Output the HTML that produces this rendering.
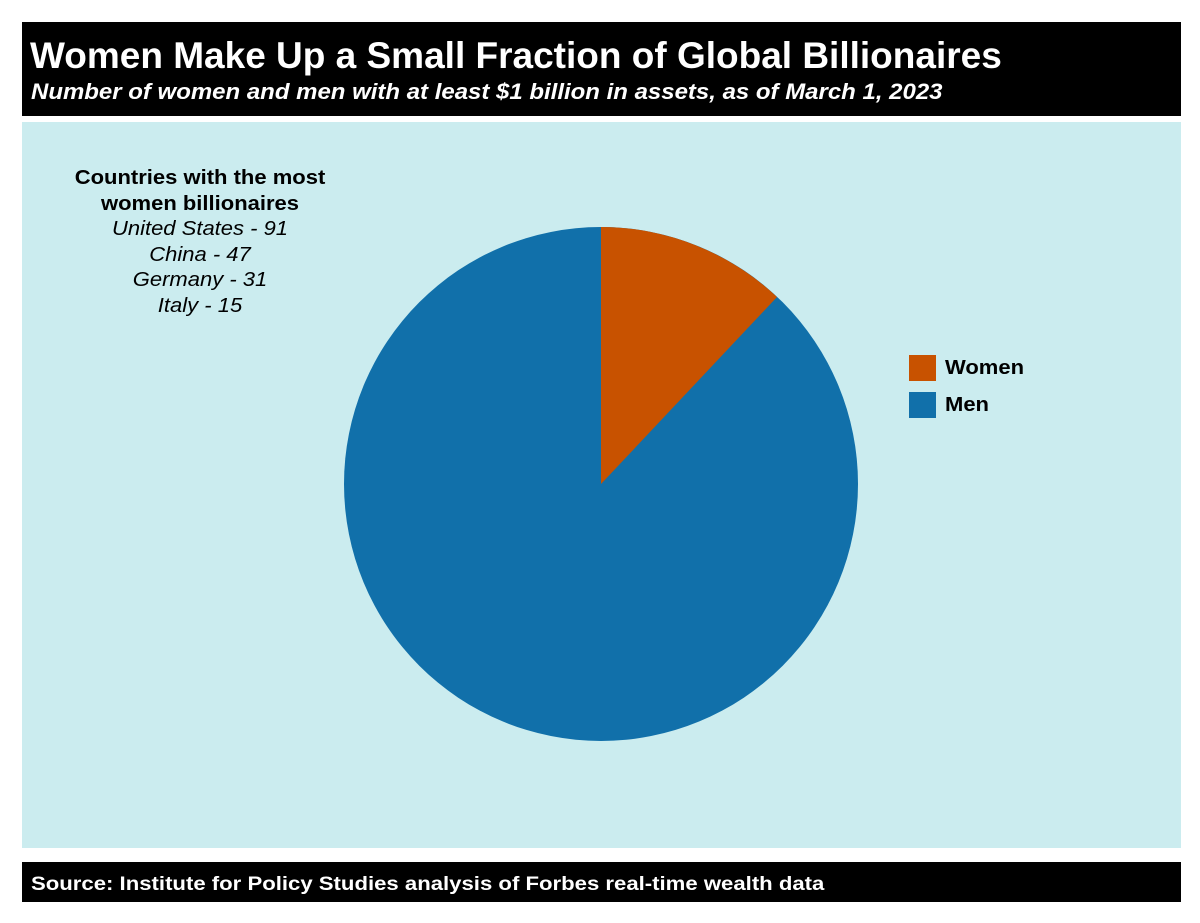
<!DOCTYPE html>
<html><head><meta charset="utf-8"><style>
body{margin:0;width:1200px;height:923px;background:#fff;position:relative;overflow:hidden;font-family:"Liberation Sans",sans-serif}
.hd{position:absolute;left:22px;top:22px;width:1159px;height:94px;background:#000;color:#fff}
.t{position:absolute;left:8px;top:13px;font-size:37px;font-weight:bold;white-space:nowrap}
.s{position:absolute;left:9px;top:57px;font-size:22px;font-weight:bold;font-style:italic;white-space:nowrap;transform:scaleX(1.09);transform-origin:0 0}
.pn{position:absolute;left:22px;top:122px;width:1159px;height:726px;background:#cbecef}
.ft{position:absolute;left:22px;top:862px;width:1159px;height:40px;background:#000;color:#fff;font-size:19px;font-weight:bold}
.ft span{position:absolute;left:9px;top:12px;white-space:nowrap;transform:scaleX(1.165);transform-origin:0 0}
.note{position:absolute;left:50px;width:300px;top:166px;text-align:center;font-size:20px;line-height:25.5px;color:#000;transform:scaleX(1.1);transform-origin:150px 0}
.lg{position:absolute;font-size:20px;font-weight:bold;transform:scaleX(1.1);transform-origin:0 0}
</style></head><body>
<div class="hd"><div class="t">Women Make Up a Small Fraction of Global Billionaires</div><div class="s">Number of women and men with at least $1 billion in assets, as of March 1, 2023</div></div>
<div class="pn"></div>
<div class="note"><b>Countries with the most<br>women billionaires</b><br><i>United States - 91<br>China - 47<br>Germany - 31<br>Italy - 15</i></div>
<svg style="position:absolute;left:0;top:0" width="1200" height="923">
<circle cx="601" cy="484" r="257" fill="#1170aa"/>
<path d="M601,484 L601,227 A257,257 0 0 1 777,297 Z" fill="#c85200"/>
<rect x="909" y="355" width="27" height="26" fill="#c85200"/>
<rect x="909" y="392" width="27" height="26" fill="#1170aa"/>
</svg>
<div class="lg" style="left:945px;top:357px">Women</div>
<div class="lg" style="left:945px;top:394px">Men</div>
<div class="ft"><span>Source: Institute for Policy Studies analysis of Forbes real-time wealth data</span></div>
</body></html>
